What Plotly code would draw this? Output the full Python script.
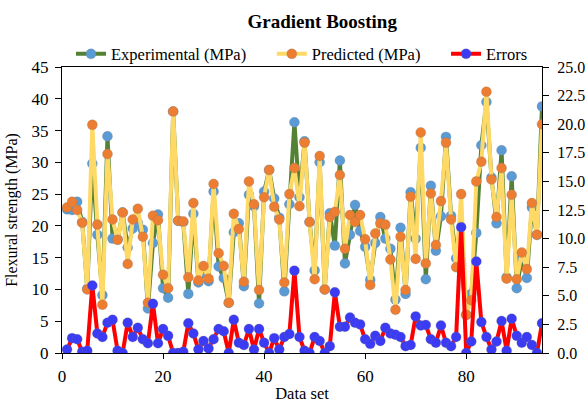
import plotly.graph_objects as go

data_set = list(range(1, 96))

experimental = [
    22.6, 22.5, 23.8, 20.6, 10.1, 29.8, 18.6, 9.1, 34.1, 18.0,
    17.9, 22.1, 16.6, 19.6, 20.5, 19.4, 7.0, 17.3, 21.8, 10.2,
    8.7, 38.0, 20.8, 20.6, 9.3, 21.9, 11.1, 12.6, 11.3, 25.4,
    13.6, 11.8, 7.9, 19.0, 20.4, 10.5, 24.9, 23.1, 7.8, 25.4,
    28.8, 24.3, 21.3, 9.7, 23.4, 36.3, 24.5, 33.3, 20.6, 13.0,
    30.0, 10.0, 22.0, 16.9, 30.3, 14.1, 18.6, 23.3, 19.2, 16.7,
    11.5, 17.3, 21.4, 18.0, 16.4, 8.4, 19.7, 9.3, 25.3, 18.0,
    32.3, 11.6, 26.3, 16.1, 21.5, 34.0, 21.6, 14.9, 14.0, 6.0,
    9.3, 18.9, 32.7, 39.5, 27.6, 20.4, 31.9, 11.9, 27.8, 10.2,
    14.9, 11.8, 22.9, 18.6, 38.8,
]

predicted = [
    22.9, 23.8, 22.5, 20.5, 10.0, 35.9, 20.2, 7.6, 31.3, 21.0,
    17.8, 22.1, 14.0, 21.0, 22.7, 18.3, 7.9, 21.6, 20.9, 12.3,
    10.2, 38.0, 20.8, 20.7, 11.9, 23.6, 11.4, 13.7, 11.7, 26.6,
    15.7, 13.7, 7.9, 21.9, 19.5, 11.2, 27.0, 23.4, 9.9, 24.5,
    28.8, 23.0, 21.0, 11.1, 25.0, 29.1, 23.1, 33.1, 20.6, 11.6,
    31.0, 10.0, 21.4, 22.2, 28.0, 16.4, 21.7, 20.6, 21.7, 17.9,
    10.7, 18.8, 20.4, 20.2, 14.7, 6.8, 18.3, 9.9, 24.6, 14.8,
    34.7, 14.1, 25.1, 17.0, 23.9, 33.1, 21.0, 13.5, 25.0, 6.0,
    8.3, 27.0, 30.1, 41.1, 27.3, 21.4, 29.1, 11.7, 24.9, 11.6,
    15.8, 13.2, 23.6, 18.6, 36.0,
]

errors = [
    0.3, 1.3, 1.2, 0.1, 0.2, 5.9, 1.7, 1.4, 2.65, 2.9,
    0.2, 0.0, 2.65, 1.4, 2.2, 1.2, 0.85, 4.3, 0.85, 2.1,
    1.5, 0.0, 0.0, 0.1, 2.6, 1.7, 0.3, 1.05, 0.4, 1.2,
    2.1, 1.9, 0.0, 2.9, 0.9, 0.7, 2.1, 0.3, 2.1, 0.9,
    0.0, 1.3, 0.3, 1.4, 1.65, 7.2, 1.4, 0.2, 0.0, 1.4,
    1.05, 0.0, 0.6, 5.3, 2.3, 2.3, 3.1, 2.65, 2.5, 1.2,
    0.8, 1.5, 1.05, 2.2, 1.7, 1.6, 1.4, 0.6, 0.7, 3.2,
    2.4, 2.45, 1.2, 0.9, 2.4, 0.9, 0.6, 1.4, 11.0, 0.0,
    1.0, 8.0, 2.7, 1.4, 0.3, 1.0, 2.8, 0.2, 3.0, 1.5,
    0.9, 1.4, 0.7, 0.0, 2.6,
]

left_ticks = [0, 5, 10, 15, 20, 25, 30, 35, 40, 45]
right_ticks = [0, 2.5, 5, 7.5, 10, 12.5, 15, 17.5, 20, 22.5, 25]
x_ticks = [0, 20, 40, 60, 80]

FONT = "Liberation Serif, Times New Roman, serif"
PAD = "\u00a0" * 5
MARKER_EDGE = dict(color="rgba(120,120,120,0.5)", width=0.5)

fig = go.Figure()
fig.add_trace(go.Scatter(
    x=data_set, y=experimental, name="Experimental (MPa)" + PAD,
    mode="lines+markers",
    line=dict(color="#548235", width=4),
    marker=dict(color="#5B9BD5", size=10, line=MARKER_EDGE),
))
fig.add_trace(go.Scatter(
    x=data_set, y=predicted, name="Predicted (MPa)" + PAD,
    mode="lines+markers",
    line=dict(color="#FFD966", width=4),
    marker=dict(color="#ED7D31", size=10, line=MARKER_EDGE),
))
fig.add_trace(go.Scatter(
    x=data_set, y=errors, name="Errors",
    mode="lines+markers", yaxis="y2",
    line=dict(color="#FF0000", width=4),
    marker=dict(color="#3B3BF5", size=10, line=MARKER_EDGE),
))

fig.update_layout(
    width=588, height=403,
    margin=dict(l=62, r=46, t=67, b=50, autoexpand=False),
    paper_bgcolor="white", plot_bgcolor="white",
    font=dict(family=FONT, size=16, color="black"),
    title=dict(text="<b>Gradient Boosting</b>", x=0.548, xanchor="center",
               y=0.948, yanchor="middle", font=dict(size=19, family=FONT, color="black")),
    showlegend=True,
    legend=dict(orientation="h", x=0.5, xanchor="center", y=1.045, yanchor="middle",
                font=dict(size=16.5, family=FONT), itemwidth=30, bgcolor="rgba(0,0,0,0)"),
    xaxis=dict(range=[0, 95], tickvals=x_ticks, showgrid=False, zeroline=False,
               showline=True, linecolor="black", linewidth=1, mirror=True,
               ticks="outside", ticklen=5, tickcolor="black", ticklabelstandoff=3,
               tickfont=dict(size=17), automargin=False,
               title=dict(text="Data set", standoff=5, font=dict(size=16.5))),
    yaxis=dict(range=[0, 45], tickvals=left_ticks, showgrid=False, zeroline=False,
               showline=True, linecolor="black", linewidth=1,
               ticks="outside", ticklen=6, tickcolor="black", ticklabelstandoff=3,
               tickfont=dict(size=17), automargin=False,
               title=dict(text="Flexural strength (MPa)", standoff=9, font=dict(size=16))),
    yaxis2=dict(range=[0, 25], tickvals=right_ticks, tickformat=".1f",
                overlaying="y", side="right", showgrid=False, zeroline=False,
                showline=True, linecolor="black", linewidth=1,
                ticks="outside", ticklen=6, tickcolor="black", ticklabelstandoff=5,
                tickfont=dict(size=16), automargin=False),
)

fig.write_html("out.html")
